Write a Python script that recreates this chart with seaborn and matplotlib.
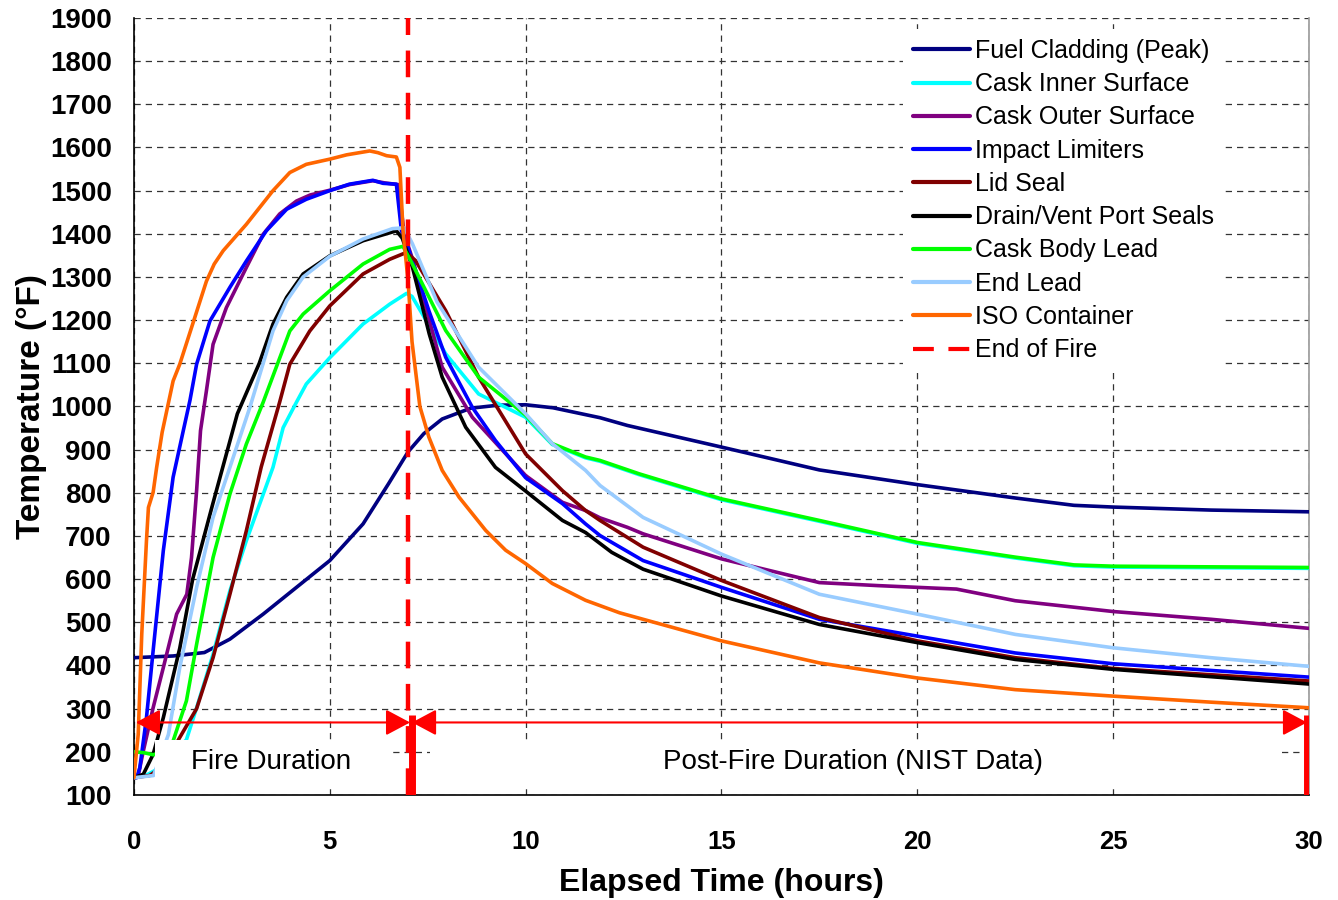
import numpy as np
import pandas as pd
import matplotlib
matplotlib.use("Agg")
import matplotlib.pyplot as plt
import seaborn as sns
from matplotlib.patches import Rectangle
from matplotlib.lines import Line2D
from matplotlib.ticker import MultipleLocator

# ---------------- data ----------------
SERIES = ["Fuel Cladding (Peak)", "Cask Inner Surface", "Cask Outer Surface",
          "Impact Limiters", "Lid Seal", "Drain/Vent Port Seals",
          "Cask Body Lead", "End Lead", "ISO Container"]
COLORS = ["#000080", "#00FFFF", "#800080", "#0000FF", "#800000",
          "#000000", "#00FF00", "#99CCFF", "#FF6600"]

fuel_t = [0, 1.0, 1.8, 2.45, 3.3, 4.15, 5.0, 5.85, 6.5, 7.0, 7.4, 7.87, 8.6, 9.3, 10.0, 10.7,
          11.9, 12.6, 15, 17.5, 20, 22.5, 24, 25, 27.5, 30]
fuel_v = [418, 422, 430, 461, 519, 581, 643, 728, 821, 895, 937, 971, 996, 1003, 1004, 997,
          974, 956, 906, 853, 819, 788, 771, 767, 760, 756]

inner_t = [0, 0.3, 0.7, 1.0, 1.34, 1.6, 2.02, 2.45, 2.87, 3.55, 3.81, 4.15, 4.4, 5.0, 5.85,
           6.53, 6.96, 7.1, 7.96, 8.8, 10.0, 10.68, 11.53, 11.9, 12.9, 15, 17.5, 20, 22.5,
           24, 25, 30]
inner_v = [140, 145, 165, 195, 228, 302, 426, 573, 689, 859, 951, 1010, 1052, 1113, 1191,
           1237, 1262, 1255, 1122, 1029, 975, 912, 881, 873, 842, 784, 734, 683, 649,
           631, 628, 625]

outer_t = [0, 0.11, 0.24, 0.49, 0.75, 1.09, 1.35, 1.47, 1.60, 1.70, 1.85, 2.02, 2.36, 2.87,
           3.3, 3.72, 4.15, 4.5, 5.0, 5.5, 6.1, 6.4, 6.75, 6.9, 7.1, 7.87, 8.64, 10.0, 10.94,
           11.53, 11.9, 12.6, 13.0, 15, 17.5, 19, 20, 21, 22.5, 25, 27.5, 30]
outer_v = [140, 145, 202, 302, 395, 519, 565, 650, 805, 944, 1036, 1144, 1229, 1322,
           1399, 1446, 1476, 1490, 1501, 1514, 1523, 1518, 1514, 1400, 1345, 1091, 975, 840, 778,
           759, 742, 720, 705, 647, 592, 585, 581, 577, 550, 525, 507, 486]

impact_t = [0, 0.07, 0.15, 0.32, 0.49, 0.75, 1.0, 1.26, 1.43, 1.6, 1.94, 2.45, 2.87, 3.38,
            3.9, 4.4, 5.0, 5.5, 6.1, 6.36, 6.7, 6.83, 7.0, 7.53, 7.96, 8.64, 9.23, 10.0,
            10.94, 11.53, 11.9, 13.0, 15, 17.5, 20, 22.5, 25, 30]
impact_v = [140, 140, 163, 279, 434, 666, 836, 944, 1014, 1098, 1198, 1276, 1337, 1407,
            1457, 1480, 1500, 1515, 1524, 1517, 1515, 1407, 1368, 1222, 1114, 998, 921, 835,
            775, 728, 701, 643, 581, 507, 468, 429, 404, 373]

lid_t = [0, 0.4, 0.8, 1.13, 1.6, 2.02, 2.45, 2.87, 3.25, 3.72, 3.98, 4.49, 5.0, 5.85, 6.53,
         6.96, 7.19, 7.96, 8.8, 10.0, 10.94, 11.53, 11.9, 13.0, 15, 17.5, 20, 22.5, 25, 30]
lid_v = [140, 145, 170, 227, 300, 418, 565, 712, 860, 1010, 1098, 1175, 1233, 1307, 1341,
         1357, 1338, 1222, 1068, 890, 805, 759, 736, 674, 597, 511, 457, 418, 393, 364]

drain_t = [0, 0.24, 0.49, 0.75, 1.17, 1.5, 2.0, 2.64, 3.2, 3.55, 3.9, 4.32, 5.0, 5.85, 6.7,
           6.85, 7.11, 7.54, 7.87, 8.47, 9.23, 10.0, 10.94, 11.53, 12.2, 13.0, 15, 17.5, 20,
           22.5, 25, 30]
drain_v = [140, 148, 194, 279, 440, 600, 770, 983, 1100, 1191, 1253, 1307, 1349, 1384, 1407,
           1390, 1323, 1168, 1068, 952, 859, 804, 736, 708, 662, 623, 561, 495, 453,
           414, 391, 357]

body_t = [0, 0.25, 0.5, 0.8, 1.0, 1.34, 1.6, 2.02, 2.45, 2.87, 3.3, 3.98, 4.32, 5.0, 5.85,
          6.53, 6.87, 7.11, 7.96, 8.8, 10.0, 10.68, 11.53, 11.9, 12.9, 15, 17.5, 20, 22.5,
          24, 25, 30]
body_v = [200, 198, 193, 205, 225, 318, 449, 650, 797, 913, 1010, 1175, 1214, 1268, 1330,
          1364, 1371, 1330, 1176, 1068, 980, 914, 883, 875, 844, 786, 736, 685, 651,
          633, 630, 627]

end_t = [0, 0.5, 0.88, 1.17, 1.6, 2.02, 2.45, 2.96, 3.55, 3.9, 4.32, 5.0, 5.85, 6.6, 6.9,
         7.11, 7.74, 8.8, 10.0, 10.68, 11.53, 11.9, 13.0, 15, 17.5, 20, 22.5, 25, 27.5, 30]
end_v = [140, 145, 240, 395, 581, 743, 859, 998, 1175, 1245, 1300, 1348, 1388, 1412, 1414,
         1377, 1242, 1091, 983, 914, 852, 817, 743, 658, 565, 519, 472, 441, 418, 398]

iso_t = [0, 0.11, 0.2, 0.32, 0.37, 0.49, 0.58, 0.72, 1.0, 1.17, 1.5, 1.85, 2.05, 2.28, 2.87,
         3.55, 3.98, 4.4, 5.0, 5.43, 6.02, 6.23, 6.45, 6.7, 6.79, 6.87, 7.0, 7.1, 7.3, 7.53,
         7.87, 8.3, 8.98, 9.49, 10.0, 10.68, 11.53, 12.4, 13.0, 15, 17.5, 20, 22.5, 25, 27.5, 30]
iso_v = [140, 241, 473, 689, 766, 801, 859, 940, 1059, 1098, 1191, 1290, 1330, 1361, 1422,
         1500, 1542, 1561, 1573, 1583, 1592, 1588, 1581, 1578, 1554, 1407, 1290, 1150, 1000, 929,
         852, 790, 713, 667, 636, 590, 551, 522, 507, 457, 406, 371, 344, 329, 315, 302]

FIRE_END = 7.0        # hours
ARROW_LEVEL = 268     # deg F
END_BAR_TOP = 285     # deg F
FIRE_LABEL = "Fire Duration"
POST_LABEL = "Post-Fire Duration (NIST Data)"

series_data = [(fuel_t, fuel_v), (inner_t, inner_v), (outer_t, outer_v),
               (impact_t, impact_v), (lid_t, lid_v), (drain_t, drain_v),
               (body_t, body_v), (end_t, end_v), (iso_t, iso_v)]

frames = []
for name, (t, v) in zip(SERIES, series_data):
    frames.append(pd.DataFrame({"Series": name, "Time": t, "Temp": v}))
df = pd.concat(frames, ignore_index=True)

# ---------------- figure ----------------
sns.set_theme(style="white")
plt.rcParams["font.family"] = ["Liberation Sans", "DejaVu Sans"]
for k in ["text.color", "axes.labelcolor", "xtick.color", "ytick.color"]:
    plt.rcParams[k] = "black"

fig = plt.figure(figsize=(13.38, 9.0), dpi=100)
ax = fig.add_axes([0.1001, 0.1167, 0.8782, 0.8633])

for name, col in zip(SERIES, COLORS):
    sub = df[df["Series"] == name]
    sns.lineplot(data=sub, x="Time", y="Temp", color=col, lw=2.6,
                 estimator=None, sort=False, ax=ax, zorder=3)

ax.set_xlim(0, 30)
ax.set_ylim(100, 1900)
ax.xaxis.set_major_locator(MultipleLocator(5))
ax.xaxis.set_minor_locator(MultipleLocator(1))
ax.yaxis.set_major_locator(MultipleLocator(100))
ax.yaxis.set_minor_locator(MultipleLocator(20))

ax.grid(True, which="major", color="#333333", lw=0.9, ls=(0, (5, 4)))
ax.set_axisbelow(True)

for s in ["left", "bottom"]:
    ax.spines[s].set_color("black")
    ax.spines[s].set_linewidth(1.2)
ax.spines["top"].set_visible(False)
ax.spines["right"].set_color("#999999")
ax.spines["right"].set_linewidth(1.2)

ax.tick_params(axis="x", which="major", direction="inout", length=12, width=1.2,
               labelsize=18.5, pad=19, colors="black")
ax.tick_params(axis="x", which="minor", direction="in", length=6, width=1.0, colors="black")
ax.tick_params(axis="y", which="major", direction="out", length=7, width=1.2,
               labelsize=20, pad=9, colors="black")
ax.tick_params(axis="y", which="minor", direction="in", length=5, width=1.0, colors="black")
for lab in ax.get_xticklabels() + ax.get_yticklabels():
    lab.set_fontweight("bold")

ax.set_xlabel("Elapsed Time (hours)", fontsize=23, fontweight="bold", labelpad=10)
ax.set_ylabel("Temperature (°F)", fontsize=24, fontweight="bold", labelpad=2)

# end of fire dashed line
ax.axvline(FIRE_END, color="#FF0000", lw=3.2, ls=(0, (6, 3.5)), zorder=6)

# white label boxes + texts
ax.add_patch(Rectangle((0.54, 122), 6.0, 105, facecolor="white", edgecolor="none", zorder=4))
ax.add_patch(Rectangle((7.56, 122), 21.7, 105, facecolor="white", edgecolor="none", zorder=4))
ax.text(3.5, 176, FIRE_LABEL, ha="center", va="center", fontsize=20, zorder=5)
ax.text(18.35, 176, POST_LABEL, ha="center", va="center", fontsize=20, zorder=5)

# duration arrows
arrow_style = dict(arrowstyle="<|-|>,head_length=0.75,head_width=0.4", color="#FF0000",
                   lw=1.5, shrinkA=0, shrinkB=0, mutation_scale=20)
ax.annotate("", xy=(0.05, ARROW_LEVEL), xytext=(FIRE_END + 0.05, ARROW_LEVEL),
            arrowprops=arrow_style, zorder=7)
ax.annotate("", xy=(FIRE_END + 0.1, ARROW_LEVEL), xytext=(29.95, ARROW_LEVEL),
            arrowprops=arrow_style, zorder=7)
ax.vlines([FIRE_END + 0.1, 29.95], 100, END_BAR_TOP, color="#FF0000", lw=5, zorder=7)

# legend
handles = [Line2D([0], [0], color=c, lw=3) for c in COLORS]
handles.append(Line2D([0], [0], color="#FF0000", lw=3, ls=(0, (5, 3.5))))
labels = SERIES + ["End of Fire"]
leg = fig.legend(handles, labels, loc="upper left", bbox_to_anchor=(903 / 1338, 1 - 29 / 900),
                 bbox_transform=fig.transFigure, frameon=True, facecolor="white",
                 edgecolor="none", framealpha=1.0, fancybox=False, fontsize=18,
                 handlelength=2.3, handletextpad=0.2, labelspacing=0.37,
                 borderpad=0.4, borderaxespad=0)

fig.savefig("out.png", dpi=100)
